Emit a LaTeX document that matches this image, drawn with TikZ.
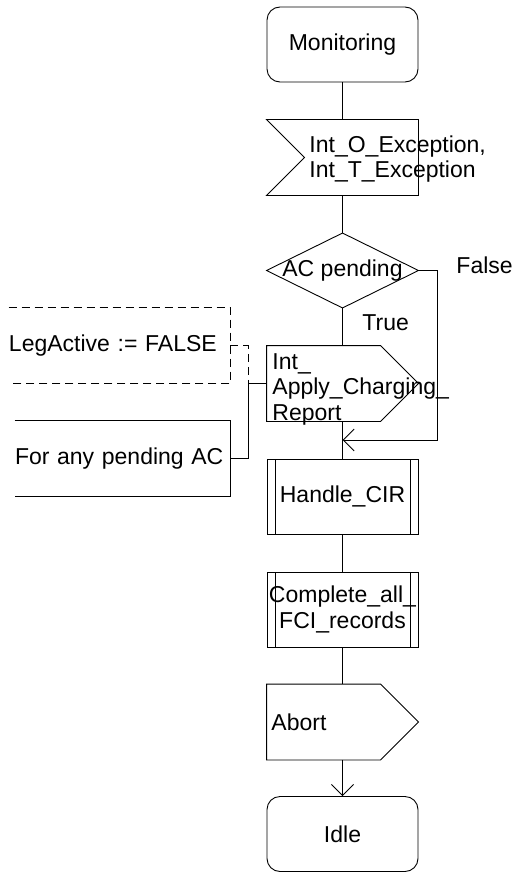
\documentclass[tikz,border=0pt]{standalone}
\usepackage{fontspec}
\setmainfont{Liberation Sans}
\usetikzlibrary{positioning,arrows.meta}

\tikzset{
  sym/.style={minimum width=151pt, minimum height=75pt, inner sep=0pt},
  state/.style={sym, draw, rounded corners=13pt},
  proc/.style={sym, draw, align=center, path picture={
      \draw ([xshift=8pt]path picture bounding box.north west) -- ([xshift=8pt]path picture bounding box.south west);
      \draw ([xshift=-8pt]path picture bounding box.north east) -- ([xshift=-8pt]path picture bounding box.south east);}},
  lbl/.style={anchor=west, align=left, inner sep=0pt},
  cmt/.style={minimum height=75pt, inner sep=0pt, align=left},
  cdash/.style={dash pattern=on 8pt off 5pt},
}

\begin{document}
\begin{tikzpicture}[x=1pt, y=-1pt, line width=0.9pt, font=\fontsize{23}{25.5}\selectfont,
    >={Straight Barb[length=11pt,width=22pt]}]
  \useasboundingbox (0,0) rectangle (514,872);

  % main column
  \node[state] (mon) at (342.5,44.5) {Monitoring};

  \node[sym] (inp) at (342.5,157.5) {};
  \draw (inp.north west) -- (inp.north east) -- (inp.south east) -- (inp.south west)
    -- ([xshift=38pt]inp.west) -- cycle;
  \node[lbl] (inptxt) at (309,159) {Int\_O\_Exception,\\Int\_T\_Exception};

  \node[sym, minimum height=74pt] (dec) at (342.5,270.5) {AC pending};
  \draw (dec.north) -- (dec.east) -- (dec.south) -- (dec.west) -- cycle;
  \node[lbl] (tru) at (362,322.5) {True};
  \node[lbl] (fal) at (456,265) {False};

  \node[sym] (out) at (342.5,383.5) {};
  \draw (out.north west) -- ([xshift=-38pt]out.north east) -- (out.east)
    -- ([xshift=-38pt]out.south east) -- (out.south west) -- cycle;
  \node[lbl] (outtxt) at (272,389) {Int\_\\Apply\_Charging\_\\Report};

  \node[proc] (cir) at (342.5,496.5) {Handle\_CIR};
  \node[proc] (fci) at (342.5,609.5) {Complete\_all\_\\FCI\_records};

  \node[sym] (abo) at (342.5,722) {};
  \draw (abo.north west) -- ([xshift=-38pt]abo.north east) -- (abo.east)
    -- ([xshift=-38pt]abo.south east) -- (abo.south west) -- cycle;
  \node[lbl] (abotxt) at (271,722) {Abort};

  \node[state] (idl) at (342.5,834) {Idle};

  % comment and text extension
  \node[cmt, text width=221pt] (leg) at (119.5,345.5) {LegActive := FALSE};
  \draw[cdash] (leg.north west) -- (leg.north east) -- (leg.south east) -- (leg.south west);
  \node[cmt, text width=215pt] (ext) at (122.5,458.5) {For any pending AC};
  \draw (ext.north west) -- (ext.north east) -- (ext.south east) -- (ext.south west);

  % connectors
  \coordinate (jn) at (248,383.5);
  \coordinate (fj) at (342.5,440);
  \draw (mon) -- (inp);
  \draw (inp) -- (dec.north);
  \draw (dec.south) -- (out);
  \draw (out) -- (cir);
  \draw (cir) -- (fci);
  \draw (fci) -- (abo);
  \draw[->] (abo) -- (idl);
  \draw[->] (dec.east) -- ++(19,0) |- (fj);
  \draw[cdash] (leg.east) -| (jn);
  \draw (ext.east) -| (jn) -- (out.west);
\end{tikzpicture}
\end{document}
